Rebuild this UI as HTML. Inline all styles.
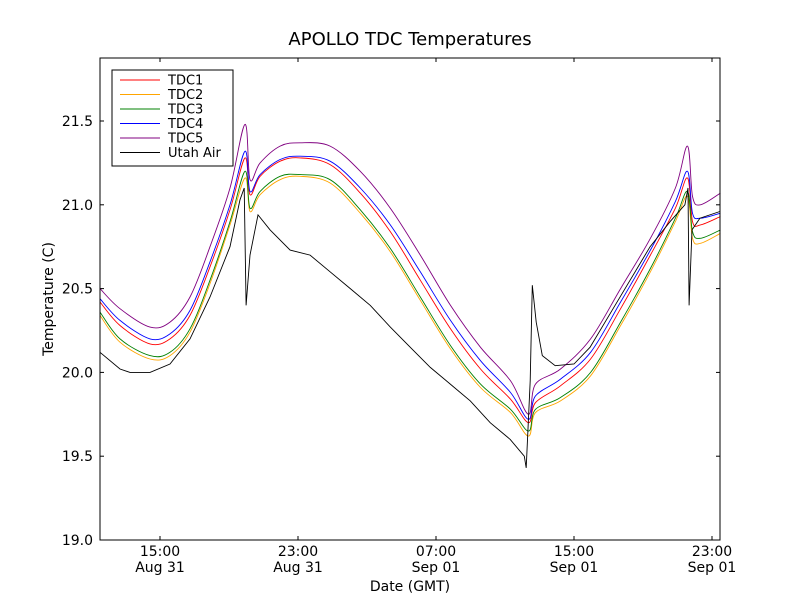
<!DOCTYPE html>
<html><head><meta charset="utf-8"><style>
body{margin:0;background:#fff;}
svg{display:block;font-family:"DejaVu Sans","Liberation Sans",sans-serif;}
</style></head><body>
<svg id="chart" width="800" height="600" viewBox="0 0 800 600">
<rect x="0" y="0" width="800" height="600" fill="#fff"/>
<text x="410" y="45" font-size="18" text-anchor="middle">APOLLO TDC Temperatures</text>
<g id="series"></g>
<g id="axes"></g>
<rect x="100" y="58" width="620" height="482" fill="none" stroke="#000" stroke-width="1"/>
<text x="410" y="591" font-size="14" text-anchor="middle">Date (GMT)</text>
<text x="53" y="299" font-size="14" text-anchor="middle" transform="rotate(-90 53 299)">Temperature (C)</text>
<g id="legend"></g>
</svg>
<script>
const tdcHours=[11.52,12.68,14.42,15.58,16.74,17.90,19.06,19.93,20.22,20.80,21.96,23.12,24.86,26.61,28.35,30.09,31.84,33.58,35.32,36.36,36.77,38.22,39.96,41.70,43.43,44.88,45.58,45.87,46.33,47.49];
const tdc1=[20.42,20.28,20.17,20.20,20.34,20.63,20.97,21.28,21.06,21.17,21.26,21.28,21.24,21.07,20.84,20.55,20.26,20.02,19.84,19.70,19.82,19.92,20.08,20.38,20.70,20.98,21.16,20.90,20.88,20.93];
const tdc2=[20.34,20.18,20.08,20.10,20.24,20.53,20.88,21.16,20.96,21.06,21.15,21.17,21.13,20.95,20.72,20.43,20.14,19.91,19.76,19.62,19.76,19.83,19.98,20.28,20.60,20.90,21.05,20.80,20.77,20.83];
const tdc3=[20.36,20.20,20.10,20.12,20.26,20.55,20.90,21.20,20.98,21.08,21.17,21.18,21.15,20.97,20.74,20.45,20.16,19.93,19.78,19.65,19.78,19.85,20.00,20.30,20.62,20.92,21.08,20.84,20.80,20.85];
const tdc4=[20.44,20.31,20.20,20.23,20.37,20.66,21.00,21.32,21.08,21.18,21.27,21.29,21.26,21.10,20.88,20.60,20.31,20.07,19.88,19.72,19.86,19.96,20.12,20.42,20.73,21.02,21.20,20.95,20.92,20.95];
const tdc5=[20.50,20.38,20.27,20.30,20.45,20.75,21.10,21.48,21.15,21.25,21.35,21.37,21.35,21.20,20.98,20.70,20.40,20.15,19.95,19.75,19.93,20.02,20.20,20.50,20.80,21.10,21.35,21.05,21.00,21.07];
const airHours=[11.52,12.68,13.26,14.42,15.58,16.74,17.90,19.06,19.64,19.88,19.99,20.22,20.68,21.38,22.54,23.70,24.86,26.03,27.19,28.35,29.51,30.67,31.83,32.99,34.14,35.30,36.12,36.23,36.46,36.58,36.81,37.16,37.91,39.00,39.93,41.09,42.25,43.41,44.57,45.43,45.61,45.67,45.84,46.30,47.46];
const airTemps=[20.12,20.02,20.00,20.00,20.05,20.20,20.45,20.75,21.03,21.10,20.40,20.70,20.94,20.85,20.73,20.70,20.60,20.50,20.40,20.27,20.15,20.03,19.93,19.83,19.70,19.60,19.50,19.43,19.95,20.52,20.30,20.10,20.04,20.05,20.15,20.35,20.55,20.75,20.90,21.00,21.10,20.40,20.85,20.92,20.96];
const yTicks=[19.0,19.5,20.0,20.5,21.0,21.5];
const xTickHours=[15,23,31,39,47];
const xTickTimes=["15:00","23:00","07:00","15:00","23:00"];
const xTickDates=["Aug 31","Aug 31","Sep 01","Sep 01","Sep 01"];
const legendLabels=["TDC1","TDC2","TDC3","TDC4","TDC5","Utah Air"];

const NS="http://www.w3.org/2000/svg";
const xS=h=>160+(h-15)*17.25;
const yS=v=>540-(v-19)*167.6;
function mk(tag,attrs,parent){const e=document.createElementNS(NS,tag);for(const k in attrs)e.setAttribute(k,attrs[k]);parent.appendChild(e);return e;}
function smoothPath(pts){
  let d='M'+pts[0][0].toFixed(1)+','+pts[0][1].toFixed(1);
  for(let i=0;i<pts.length-1;i++){
    const p0=pts[Math.max(0,i-1)],p1=pts[i],p2=pts[i+1],p3=pts[Math.min(pts.length-1,i+2)];
    const k=1/6;
    const c1=[p1[0]+(p2[0]-p0[0])*k,p1[1]+(p2[1]-p0[1])*k];
    const c2=[p2[0]-(p3[0]-p1[0])*k,p2[1]-(p3[1]-p1[1])*k];
    d+='C'+c1[0].toFixed(1)+','+c1[1].toFixed(1)+' '+c2[0].toFixed(1)+','+c2[1].toFixed(1)+' '+p2[0].toFixed(1)+','+p2[1].toFixed(1);
  }
  return d;
}
const ser=document.getElementById('series');
const colors=["#ff0000","#ffa500","#008000","#0000ff","#800080","#000000"];
const seriesList=[[tdcHours,tdc1],[tdcHours,tdc2],[tdcHours,tdc3],[tdcHours,tdc4],[tdcHours,tdc5],[airHours,airTemps]];
const names=["tdc1-line","tdc2-line","tdc3-line","tdc4-line","tdc5-line","utah-air-line"];
seriesList.forEach((s,i)=>{
  const pts=s[0].map((h,j)=>[xS(h),yS(s[1][j])]);
  const d=i<5?smoothPath(pts):pts.map((p,j)=>(j?'L':'M')+p[0].toFixed(1)+','+p[1].toFixed(1)).join('');
  const p=mk('path',{d:d,fill:'none',stroke:colors[i],'stroke-width':0.9},ser);
  
  
});
const ax=document.getElementById('axes');
yTicks.forEach(v=>{
  const y=yS(v);
  const t1=mk('line',{x1:100,x2:104,y1:y,y2:y,stroke:'#000'},ax);
  
  
  const t2=mk('line',{x1:716,x2:720,y1:y,y2:y,stroke:'#000'},ax);
  
  
  const tx=mk('text',{x:93,y:y+5,'font-size':14,'text-anchor':'end'},ax);
  tx.textContent=v.toFixed(1);
  
  
});
xTickHours.forEach((h,i)=>{
  const x=xS(h);
  const t1=mk('line',{x1:x,x2:x,y1:536,y2:540,stroke:'#000'},ax);
  
  
  const t2=mk('line',{x1:x,x2:x,y1:58,y2:62,stroke:'#000'},ax);
  
  
  const a=mk('text',{x:x,y:556,'font-size':14,'text-anchor':'middle'},ax);
  a.textContent=xTickTimes[i];
  
  
  const b=mk('text',{x:x,y:572,'font-size':14,'text-anchor':'middle'},ax);
  b.textContent=xTickDates[i];
  
  
});
const lg=document.getElementById('legend');
const box=mk('rect',{x:112,y:70,width:121,height:96,fill:'#fff',stroke:'#000'},lg);


legendLabels.forEach((l,i)=>{
  const y=80+i*14.5;
  const ln=mk('line',{x1:120,x2:160,y1:y,y2:y,stroke:colors[i],'stroke-width':1},lg);
  
  
  const t=mk('text',{x:168,y:y+4.5,'font-size':13},lg);
  t.textContent=l;
  
  
});
</script>
</body></html>
